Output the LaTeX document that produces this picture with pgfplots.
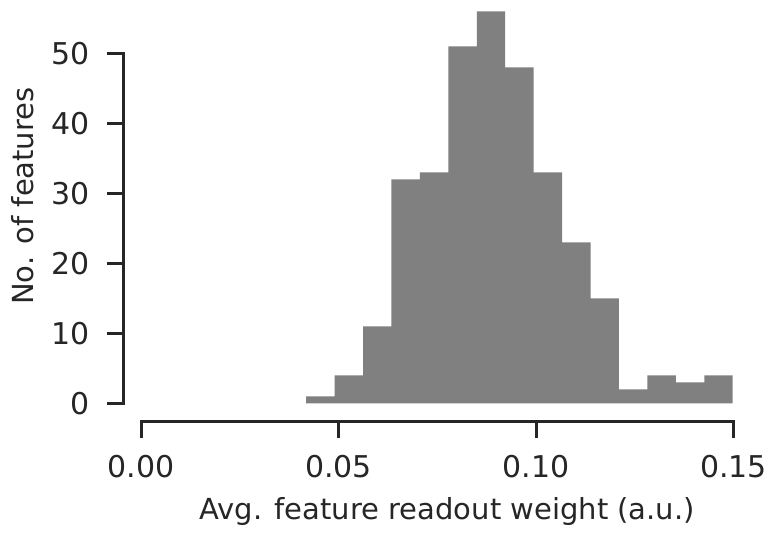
\documentclass[border=0pt]{standalone}
\usepackage{fontspec}
\setmainfont{DejaVu Sans}
\usepackage{pgfplots}
\pgfplotsset{compat=1.18}
\definecolor{txt}{HTML}{262626}
\definecolor{barc}{HTML}{808080}
\begin{document}
\begin{tikzpicture}
\useasboundingbox (-61.65pt,-57.15pt) rectangle (327.35pt,210.85pt);
\begin{axis}[
  scale only axis, width=305.1pt, height=210.8pt,
  xmin=-0.0045, xmax=0.15, ymin=-2.63, ymax=57.6,
  axis x line*=bottom, axis y line*=left,
  axis line style={draw=none},
  clip=false,
  tick align=outside, major tick length=8pt,
  tick style={color=txt, line width=1.5pt},
  xtick={0,0.05,0.1,0.15}, ytick={0,10,20,30,40,50},
  minor tick num=0,
  scaled x ticks=false,
  xticklabel style={font=\fontsize{15}{18}\selectfont, text=txt, inner sep=0pt, anchor=north,
    /pgf/number format/.cd, fixed, fixed zerofill, precision=2, assume math mode=true},
  yticklabel style={font=\fontsize{15}{18}\selectfont, text=txt, inner sep=0pt, anchor=east,
    /pgf/number format/.cd, assume math mode=true},
  xticklabel shift=8.65pt,
  yticklabel shift=8.5pt,
  xlabel={Avg. feature readout weight (a.u.)},
  ylabel={No. of features},
  xlabel style={font=\fontsize{14.5}{17}\selectfont, text=txt, inner sep=0pt, anchor=base,
    at={([yshift=-49pt]axis cs:0.0775,-2.63)}},
  ylabel style={font=\fontsize{14.5}{17}\selectfont, text=txt, inner sep=0pt, anchor=base, rotate=0,
    at={([xshift=-45pt]axis cs:-0.0045,29.6)}},
]
\addplot[ybar interval, fill=barc, draw=none] coordinates {
  (0.0418,1) (0.0490,4) (0.0562,11) (0.0634,32) (0.0706,33)
  (0.0778,51) (0.0850,56) (0.0922,48) (0.0994,33) (0.1066,23)
  (0.1138,15) (0.1210,2) (0.1282,4) (0.1354,3) (0.1426,4)
  (0.1498,4)
};
\draw[txt, line width=1.5pt, line cap=rect] (axis cs:0,-2.63) -- (axis cs:0.15,-2.63);
\draw[txt, line width=1.5pt, line cap=rect] (axis cs:-0.0045,0) -- (axis cs:-0.0045,50);
\end{axis}
\end{tikzpicture}
\end{document}
